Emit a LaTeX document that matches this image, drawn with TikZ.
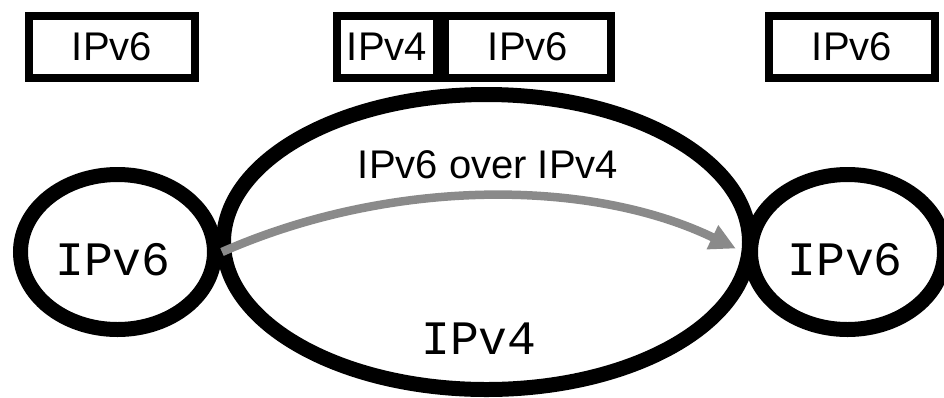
\documentclass[tikz,border=0pt]{standalone}
\usepackage{fontspec}
\setmainfont{Liberation Sans}
\newfontfamily\monofont{Liberation Mono}
\usetikzlibrary{shapes.geometric,arrows.meta}
\definecolor{arrowgray}{RGB}{138,138,138}
\tikzset{
  hdrbox/.style={draw=black, line width=8pt, rectangle, minimum height=62pt, inner sep=0pt,
    font=\fontsize{40}{48}\selectfont},
  net/.style={draw=black, line width=15pt, ellipse, inner sep=0pt},
  monolbl/.style={font=\monofont\fontsize{48}{56}\selectfont, inner sep=0pt},
  sanslbl/.style={font=\fontsize{40}{48}\selectfont, inner sep=0pt},
  tunnel/.style={draw=arrowgray, line width=8.5pt, -{Triangle[length=26pt,width=25pt]}, shorten >=8pt}
}
\begin{document}
\begin{tikzpicture}[x=1pt,y=-1pt]
\useasboundingbox (0,0) rectangle (944,397);
% networks
\node[net, minimum width=194pt, minimum height=155pt] (lc) at (117.5,252) {};
\node[net, minimum width=194pt, minimum height=155pt] (rc) at (847.5,252) {};
\node[net, minimum width=526pt, minimum height=295pt] (big) at (486.5,242) {};
% labels
\node[monolbl] (lct) at (113,260) {IPv6};
\node[monolbl] (rct) at (845,260) {IPv6};
\node[monolbl] (bigt) at (479,339) {IPv4};
\node[sanslbl] (tl) at (488,165) {IPv6 over IPv4};
% headers
\node[hdrbox, minimum width=166pt] (h1) at (112,47) {IPv6};
\node[hdrbox, minimum width=100pt] (h2a) at (387,47) {IPv4};
\node[hdrbox, minimum width=166pt] (h2b) at (528,47) {IPv6};
\node[hdrbox, minimum width=166pt] (h3) at (852,47) {IPv6};
% tunnel arrow
\draw[tunnel] (lc.east) .. controls (390,178) and (590,178) .. (rc.west);
\end{tikzpicture}
\end{document}
